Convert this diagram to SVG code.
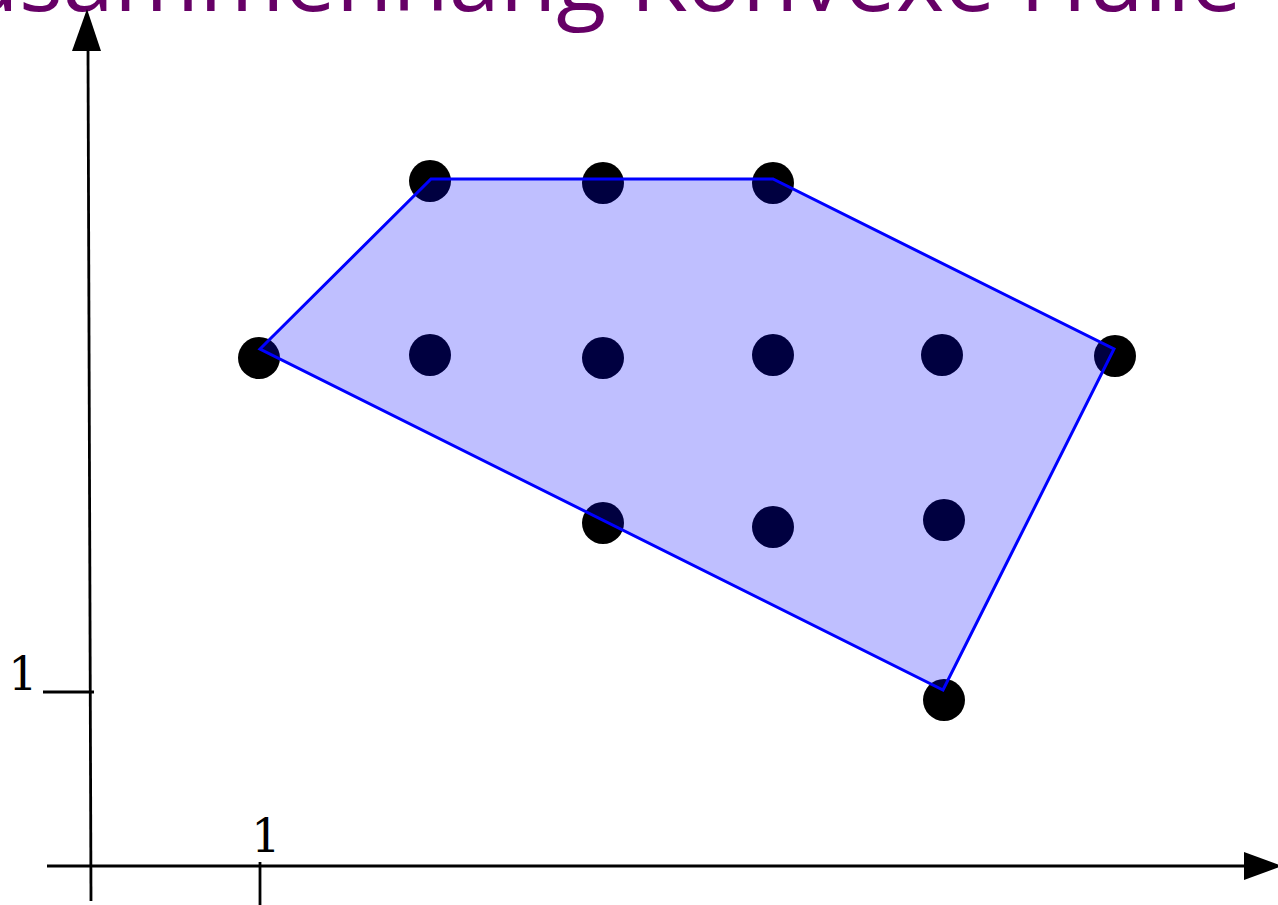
<svg xmlns="http://www.w3.org/2000/svg" width="1278" height="905" viewBox="0 0 1278 905">
<style>
.ax{stroke:#000;stroke-width:2.8;fill:none}
.pt{fill:#000}
.hull{fill:#0000ff;fill-opacity:0.25;stroke:#0000ff;stroke-width:3;stroke-linejoin:miter}
.lbl{font-family:"DejaVu Serif","Liberation Serif",serif;font-size:46px;fill:#000}
.title{font-family:"Open Sans","Noto Sans",sans-serif;font-size:92px;fill:#660066}
</style>
<rect width="1278" height="905" fill="#fff"/>
<g id="title"><text class="title" x="1242" y="11" text-anchor="end">Zusammenhang Konvexe Hülle</text></g>
<g id="axes">
<line class="ax" x1="47" y1="866" x2="1246" y2="866"/>
<polygon points="1244,852 1282,866 1244,880" fill="#000"/>
<line class="ax" x1="91" y1="901" x2="88" y2="49"/>
<polygon points="72,51 87,9 101,51" fill="#000"/>
<line class="ax" x1="260" y1="862" x2="260" y2="905"/>
<line class="ax" x1="43" y1="692" x2="94" y2="692"/>
<text class="lbl" x="266" y="852" text-anchor="middle">1</text>
<text class="lbl" x="23" y="690" text-anchor="middle">1</text>
</g>
<g id="points">
<circle class="pt" cx="430" cy="181" r="21"/>
<circle class="pt" cx="603" cy="183" r="21"/>
<circle class="pt" cx="773" cy="183" r="21"/>
<circle class="pt" cx="259" cy="358" r="21"/>
<circle class="pt" cx="430" cy="355" r="21"/>
<circle class="pt" cx="603" cy="358" r="21"/>
<circle class="pt" cx="773" cy="355" r="21"/>
<circle class="pt" cx="942" cy="355" r="21"/>
<circle class="pt" cx="1115" cy="356" r="21"/>
<circle class="pt" cx="603" cy="523" r="21"/>
<circle class="pt" cx="773" cy="527" r="21"/>
<circle class="pt" cx="944" cy="520" r="21"/>
<circle class="pt" cx="944" cy="700" r="21"/>
</g>
<g id="hull"><polygon class="hull" points="260,349 431,179 773,179 1114,349 943,690"/></g>
</svg>
